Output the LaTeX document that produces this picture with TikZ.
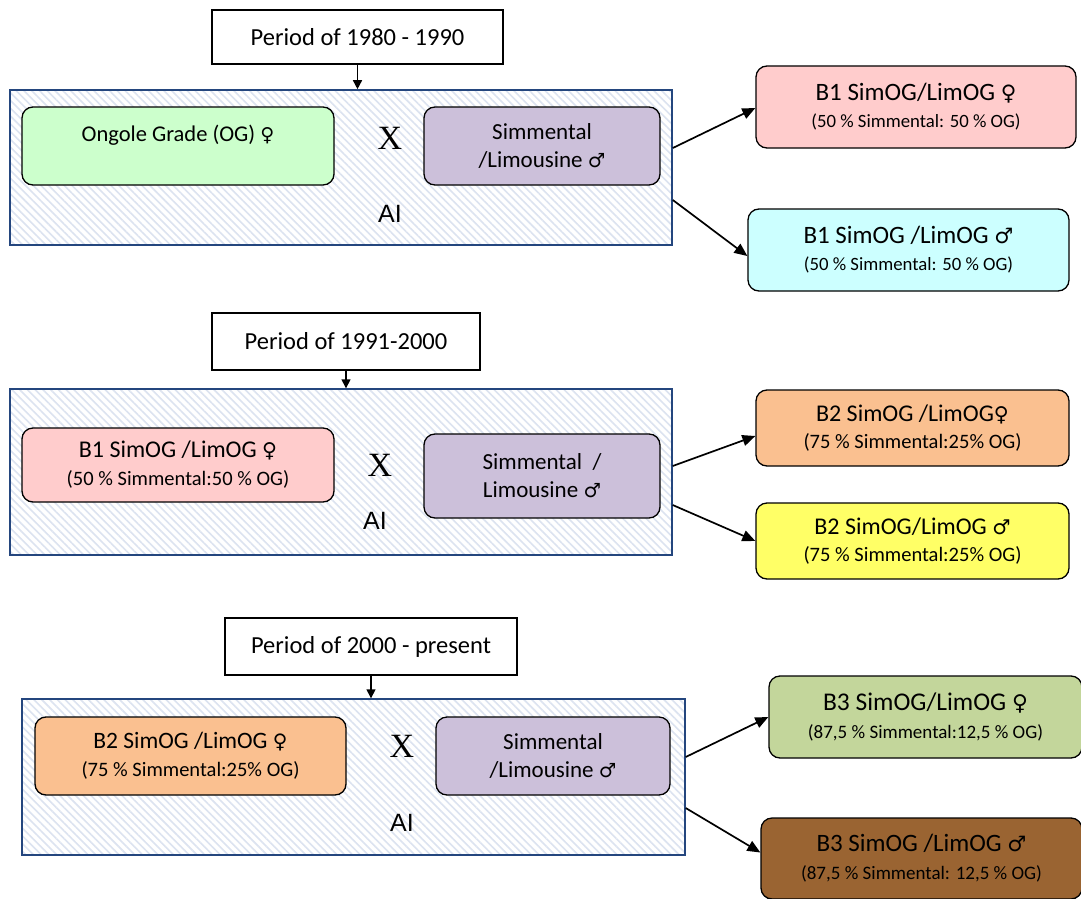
\documentclass[tikz,border=0pt]{standalone}
\usepackage{fontspec}
\setmainfont{Carlito}
\newfontfamily\symf{DejaVu Sans}
\newfontfamily\serf{Liberation Serif}
\newfontfamily\arialf{Liberation Sans}
\usetikzlibrary{patterns.meta,arrows.meta}
\definecolor{cgreen}{HTML}{CCFFCC}
\definecolor{cpurple}{HTML}{CCC0DA}
\definecolor{cpink}{HTML}{FFCCCC}
\definecolor{ccyan}{HTML}{CCFFFF}
\definecolor{corange}{HTML}{FAC090}
\definecolor{cyellow}{HTML}{FFFF66}
\definecolor{colive}{HTML}{C3D69B}
\definecolor{cbrown}{HTML}{9A6432}
\definecolor{cnavy}{HTML}{24467E}
\definecolor{chatch}{HTML}{DCE3F0}
\newcommand{\fem}{{\symf\fontsize{0.85em}{1em}\selectfont ♀}}
\newcommand{\mal}{{\symf\fontsize{0.85em}{1em}\selectfont ♂}}
\newcommand{\fs}[2]{\fontsize{#1}{#2}\selectfont}
\tikzset{
  period/.style={draw=black, line width=1.3pt, fill=white, font=\fs{24.5}{28}, align=center, inner sep=0pt},
  group/.style={draw=cnavy, line width=1.4pt, pattern={Lines[angle=-45, distance=5.5pt, line width=1.6pt]}, pattern color=chatch, inner sep=0pt},
  animal/.style={draw=black, line width=1.3pt, rounded corners=11pt, align=center, inner sep=0pt},
  cross/.style={font=\serf\fs{34}{36}, inner sep=0pt},
  ai/.style={font=\arialf\fs{25}{28}, inner sep=0pt},
  arr/.style={-{Triangle[length=13pt,width=11pt]}, line width=1.7pt},
  darr/.style={-{Triangle[length=9pt,width=9pt]}, line width=1.5pt}
}
\begin{document}
\begin{tikzpicture}[x=1pt,y=-1pt]
\useasboundingbox (0,0) rectangle (1081,899);
\fill[white] (0,0) rectangle (1081,899);
% ---------- Block 1 ----------
\node[period, minimum width=291pt, minimum height=54pt] (t1) at (357.5,37) {Period of 1980 - 1990};
\node[group, minimum width=662pt, minimum height=155pt] (g1) at (341,167.5) {};
\node[animal, fill=cgreen, minimum width=312pt, minimum height=78pt, font=\fs{22.5}{26}] (og) at (178,146) {Ongole Grade (OG) \fem\\ \mbox{}};
\node[animal, fill=cpurple, minimum width=236pt, minimum height=78pt, font=\fs{23}{28}] (s1) at (542,146) {Simmental\\/Limousine \mal};
\node[cross] (x1) at (390,138) {X};
\node[ai] (ai1) at (390,214) {AI};
\node[animal, fill=cpink, minimum width=320pt, minimum height=82pt, font=\fs{25}{27}] (f1) at (916,107) {B1 SimOG/LimOG \fem\\\fs{18.75}{22}(50 \% Simmental: 50 \% OG)};
\node[animal, fill=ccyan, minimum width=321pt, minimum height=82pt, font=\fs{25}{27}] (m1) at (908.5,250) {B1 SimOG /LimOG \mal\\\fs{18.75}{22}(50 \% Simmental: 50 \% OG)};
\draw[darr] (t1.south) -- (g1.north -| t1.south);
\draw[arr] ([yshift=19.5pt]g1.east) -- ([yshift=-1pt]f1.west);
\draw[arr] ([yshift=-32.5pt]g1.east) -- ([yshift=-6pt]m1.west);
% ---------- Block 2 ----------
\node[period, minimum width=268pt, minimum height=57pt] (t2) at (346,341.5) {Period of 1991-2000};
\node[group, minimum width=662pt, minimum height=166pt] (g2) at (341,472) {};
\node[animal, fill=cpink, minimum width=312pt, minimum height=74pt, font=\fs{24}{28}] (b1f) at (178,465) {B1 SimOG /LimOG \fem\\\fs{20.5}{24}(50 \% Simmental:50 \% OG)};
\node[animal, fill=cpurple, minimum width=236pt, minimum height=84pt, font=\fs{23}{28}] (s2) at (542,476) {Simmental\ \ /\\Limousine \mal};
\node[cross] (x2) at (380,465) {X};
\node[ai] (ai2) at (375,521) {AI};
\node[animal, fill=corange, minimum width=313pt, minimum height=76pt, font=\fs{24}{27}] (f2) at (912.5,428) {B2 SimOG /LimOG\fem\\\fs{20.5}{24}(75 \% Simmental:25\% OG)};
\node[animal, fill=cyellow, minimum width=313pt, minimum height=76pt, font=\fs{24}{27}] (m2) at (912.5,541) {B2 SimOG/LimOG \mal\\\fs{20.5}{24}(75 \% Simmental:25\% OG)};
\draw[darr] (t2.south) -- (g2.north -| t2.south);
\draw[arr] ([yshift=6pt]g2.east) -- ([yshift=-8pt]f2.west);
\draw[arr] ([yshift=-33pt]g2.east) -- (m2.west);
% ---------- Block 3 ----------
\node[period, minimum width=292pt, minimum height=57pt] (t3) at (371,646.5) {Period of 2000 - present};
\node[group, minimum width=663pt, minimum height=156pt] (g3) at (353.5,777) {};
\node[animal, fill=corange, minimum width=311pt, minimum height=78pt, font=\fs{23.5}{28}] (b2f) at (190.5,756) {B2 SimOG /LimOG \fem\\\fs{20.5}{24}(75 \% Simmental:25\% OG)};
\node[animal, fill=cpurple, minimum width=234pt, minimum height=78pt, font=\fs{23}{28}] (s3) at (553,756) {Simmental\\/Limousine \mal};
\node[cross] (x3) at (402,746) {X};
\node[ai] (ai3) at (402,823) {AI};
\node[animal, fill=colive, minimum width=313pt, minimum height=82pt, font=\fs{25.5}{28}] (f3) at (925.5,717) {B3 SimOG/LimOG \fem\\\fs{19}{23}(87,5 \% Simmental:12,5 \% OG)};
\node[animal, fill=cbrown, minimum width=321pt, minimum height=81pt, font=\fs{25}{28}] (m3) at (921.5,858.5) {B3 SimOG /LimOG \mal\\\fs{19}{23}(87,5 \% Simmental: 12,5 \% OG)};
\draw[darr] (t3.south) -- (g3.north -| t3.south);
\draw[arr] ([yshift=20pt]g3.east) -- (f3.west);
\draw[arr] ([yshift=-31pt]g3.east) -- ([yshift=6pt]m3.west);
\end{tikzpicture}
\end{document}
